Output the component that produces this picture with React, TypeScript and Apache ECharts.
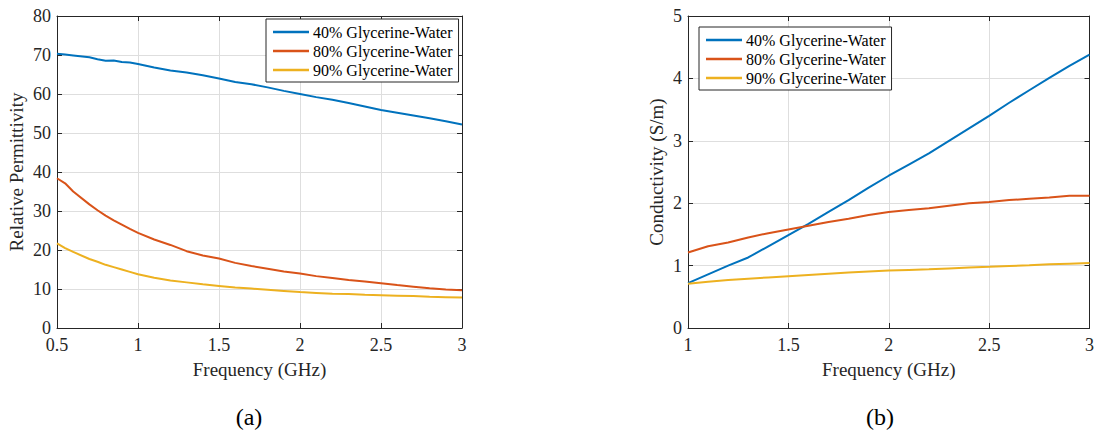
import React, { useEffect, useRef } from "react";
import * as echarts from "echarts";

// Dielectric measurements of glycerine–water mixtures
const seriesNames = ["40% Glycerine-Water", "80% Glycerine-Water", "90% Glycerine-Water"];
const lineColors = ["#0072BD", "#D95319", "#EDB120"];

// (a) relative permittivity, 0.5–3 GHz
const freqA = [0.5, 0.55, 0.6, 0.7, 0.75, 0.8, 0.85, 0.9, 0.95, 1.0, 1.1, 1.2, 1.3, 1.4, 1.5, 1.6, 1.7, 1.8, 1.9, 2.0, 2.1, 2.2, 2.3, 2.4, 2.5, 2.6, 2.7, 2.8, 2.9, 3.0];
const permittivity40 = [70.3, 70.1, 69.9, 69.4, 68.9, 68.5, 68.6, 68.2, 68.1, 67.7, 66.8, 66.0, 65.5, 64.8, 64.0, 63.1, 62.5, 61.7, 60.8, 60.0, 59.2, 58.5, 57.7, 56.8, 55.9, 55.2, 54.5, 53.8, 53.0, 52.2];
const permittivity80 = [38.4, 37.1, 35.0, 31.7, 30.2, 28.8, 27.6, 26.5, 25.4, 24.4, 22.7, 21.3, 19.7, 18.6, 17.8, 16.7, 15.9, 15.2, 14.5, 14.0, 13.3, 12.8, 12.3, 11.9, 11.5, 11.0, 10.6, 10.2, 9.9, 9.7];
const permittivity90 = [21.7, 20.5, 19.5, 17.7, 17.0, 16.2, 15.6, 15.0, 14.4, 13.8, 12.9, 12.2, 11.7, 11.2, 10.8, 10.4, 10.1, 9.8, 9.5, 9.2, 9.0, 8.8, 8.7, 8.5, 8.4, 8.3, 8.2, 8.0, 7.9, 7.8];

// (b) conductivity in S/m, 1–3 GHz
const freqB = [1.0, 1.1, 1.2, 1.3, 1.4, 1.5, 1.6, 1.7, 1.8, 1.9, 2.0, 2.1, 2.2, 2.3, 2.4, 2.5, 2.6, 2.7, 2.8, 2.9, 3.0];
const conductivity40 = [0.72, 0.86, 1.0, 1.13, 1.31, 1.49, 1.67, 1.86, 2.05, 2.25, 2.44, 2.62, 2.8, 3.0, 3.2, 3.4, 3.61, 3.81, 4.01, 4.2, 4.38];
const conductivity80 = [1.21, 1.31, 1.37, 1.45, 1.52, 1.58, 1.64, 1.7, 1.75, 1.81, 1.86, 1.89, 1.92, 1.96, 2.0, 2.02, 2.05, 2.07, 2.09, 2.12, 2.12];
const conductivity90 = [0.71, 0.74, 0.77, 0.79, 0.81, 0.83, 0.85, 0.87, 0.89, 0.905, 0.92, 0.93, 0.94, 0.955, 0.97, 0.98, 0.995, 1.005, 1.02, 1.03, 1.04];

const FONT = "'Liberation Serif', 'Times New Roman', serif";
const INK = "#262626";
const GRID_LINE = "#dedede";

const pairs = (xs: number[], ys: number[]) => xs.map((x, i) => [x, ys[i]]);

function mainX(gridIndex: number, min: number, max: number, interval: number) {
  return {
    type: "value",
    gridIndex,
    min,
    max,
    interval,
    position: "bottom",
    name: "Frequency (GHz)",
    nameLocation: "middle",
    nameGap: 32,
    nameTextStyle: { fontFamily: FONT, fontSize: 19, color: INK },
    axisLine: { show: true, onZero: false, lineStyle: { color: INK, width: 1 } },
    axisTick: { show: true, inside: true, length: 5, lineStyle: { color: INK } },
    axisLabel: { fontFamily: FONT, fontSize: 18, color: INK, margin: 8 },
    splitLine: { show: true, lineStyle: { color: GRID_LINE, width: 1 } },
  };
}

function boxX(gridIndex: number, min: number, max: number, interval: number) {
  return {
    type: "value",
    gridIndex,
    min,
    max,
    interval,
    position: "top",
    axisLine: { show: true, onZero: false, lineStyle: { color: INK, width: 1 } },
    axisTick: { show: true, inside: true, length: 5, lineStyle: { color: INK } },
    axisLabel: { show: false },
    splitLine: { show: false },
  };
}

function mainY(gridIndex: number, min: number, max: number, interval: number, name: string, nameGap: number) {
  return {
    type: "value",
    gridIndex,
    min,
    max,
    interval,
    position: "left",
    name,
    nameLocation: "middle",
    nameGap,
    nameTextStyle: { fontFamily: FONT, fontSize: 19, color: INK },
    axisLine: { show: true, onZero: false, lineStyle: { color: INK, width: 1 } },
    axisTick: { show: true, inside: true, length: 5, lineStyle: { color: INK } },
    axisLabel: { fontFamily: FONT, fontSize: 18, color: INK, margin: 6 },
    splitLine: { show: true, lineStyle: { color: GRID_LINE, width: 1 } },
  };
}

function boxY(gridIndex: number, min: number, max: number, interval: number) {
  return {
    type: "value",
    gridIndex,
    min,
    max,
    interval,
    position: "right",
    axisLine: { show: true, onZero: false, lineStyle: { color: INK, width: 1 } },
    axisTick: { show: true, inside: true, length: 5, lineStyle: { color: INK } },
    axisLabel: { show: false },
    splitLine: { show: false },
  };
}

function lineSeries(name: string, color: string, xAxisIndex: number, yAxisIndex: number, data: number[][]) {
  return {
    type: "line",
    name,
    xAxisIndex,
    yAxisIndex,
    data,
    symbol: "none",
    smooth: false,
    lineStyle: { color, width: 2 },
    itemStyle: { color },
    z: 3,
  };
}

function legendAt(left: number, top: number) {
  return {
    orient: "vertical",
    left,
    top,
    data: seriesNames,
    icon: "rect",
    backgroundColor: "#ffffff",
    borderColor: INK,
    borderWidth: 1,
    padding: [5, 6, 4, 7],
    itemWidth: 36,
    itemHeight: 2.5,
    itemGap: 3,
    textStyle: { fontFamily: FONT, fontSize: 16, lineHeight: 16, color: "#000000", padding: [0, 0, 0, -1] },
    selectedMode: false,
  };
}

export default function App() {
  const ref = useRef<HTMLDivElement>(null);

  useEffect(() => {
    if (!ref.current) return;
    const chart = echarts.init(ref.current, null, { renderer: "svg" });
    const permA = [permittivity40, permittivity80, permittivity90];
    const condB = [conductivity40, conductivity80, conductivity90];

    chart.setOption({
      animation: false,
      backgroundColor: "#ffffff",
      textStyle: { fontFamily: FONT },
      grid: [
        { left: 57, top: 16, width: 405, height: 312 },
        { left: 688, top: 16, width: 405, height: 312 },
      ],
      xAxis: [
        mainX(0, 0.5, 3, 0.5),
        boxX(0, 0.5, 3, 0.5),
        mainX(1, 1, 3, 0.5),
        boxX(1, 1, 3, 0.5),
      ],
      yAxis: [
        mainY(0, 0, 80, 10, "Relative Permittivity", 31),
        boxY(0, 0, 80, 10),
        mainY(1, 0, 5, 1, "Conductivity (S/m)", 22),
        boxY(1, 0, 5, 1),
      ],
      legend: [legendAt(266, 19), legendAt(699, 27)],
      title: [
        { text: "(a)", left: 249, top: 405, padding: 0, textAlign: "center", textStyle: { fontFamily: FONT, fontSize: 24, lineHeight: 24, fontWeight: "normal", color: "#000000" } },
        { text: "(b)", left: 880, top: 405, padding: 0, textAlign: "center", textStyle: { fontFamily: FONT, fontSize: 24, lineHeight: 24, fontWeight: "normal", color: "#000000" } },
      ],
      series: [
        ...seriesNames.map((n, i) => lineSeries(n, lineColors[i], 0, 0, pairs(freqA, permA[i]))),
        ...seriesNames.map((n, i) => lineSeries(n, lineColors[i], 2, 2, pairs(freqB, condB[i]))),
      ],
    });

    return () => chart.dispose();
  }, []);

  return (
    <div
      ref={ref}
      style={{ position: "fixed", left: 0, top: 0, width: 1097, height: 430, background: "#ffffff" }}
    />
  );
}
